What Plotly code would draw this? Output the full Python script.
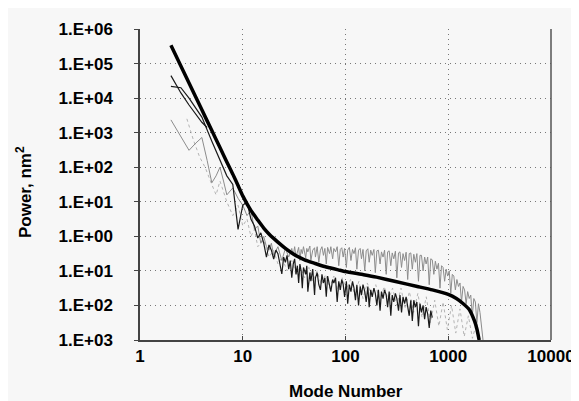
import plotly.graph_objects as go

# ---- data (second item of each pair is log10 of power) ----
fit_points = [(2, 5.53), (3, 4.44), (4, 3.66), (5, 3.06), (6, 2.57), (7, 2.15), (8, 1.80),
              (9, 1.47), (10, 1.17), (12, 0.75), (14, 0.47), (16, 0.24), (18, 0.07),
              (20, -0.06), (23, -0.22), (26, -0.35), (30, -0.48), (35, -0.60), (40, -0.68),
              (50, -0.78), (60, -0.86), (70, -0.91), (85, -0.97), (100, -1.02), (150, -1.11),
              (200, -1.18), (300, -1.30), (500, -1.45), (700, -1.55), (1000, -1.68),
              (1200, -1.80), (1400, -1.95), (1600, -2.12), (1800, -2.45), (1900, -2.68),
              (2000, -3.00)]

dark_a_points = [(2, 4.65), (2.5, 4.15), (3, 3.80), (3.5, 3.55), (4, 3.30), (4.5, 3.15)]

dark_b_points = [(2, 4.34), (2.5, 4.30), (3, 4.00), (3.5, 3.70), (4, 3.45), (5, 2.75), (6, 2.20),
                 (7, 1.75), (8, 1.50), (9, 0.20), (10, 0.90), (11, 1.00), (12, 0.50), (13, 0.30),
                 (14, -0.05), (15, 0.10), (16, -0.20), (17, -0.60), (18, -0.25), (19, -0.40),
                 (20, -0.66), (21, -0.40), (22, -0.50), (23, -0.80), (24, -1.09), (25, -0.60),
                 (26, -0.75), (27, -0.55), (28, -0.95), (29, -0.70), (30, -1.20), (31, -0.80),
                 (32, -0.65), (33, -1.10), (34, -0.85), (35, -1.35), (36, -0.80), (37, -1.00),
                 (38, -1.50), (39, -0.90), (41, -1.10), (42, -0.85), (43, -1.60), (45, -1.05),
                 (46, -1.30), (48, -0.95), (50, -1.70), (51, -1.20), (53, -1.05), (55, -1.40),
                 (57, -1.55), (59, -1.10), (61, -1.35), (63, -1.20), (65, -1.75), (67, -1.15),
                 (70, -1.45), (72, -1.60), (75, -1.25), (77, -1.35), (80, -1.20), (83, -1.90),
                 (86, -1.30), (89, -1.55), (92, -1.25), (95, -1.40), (98, -1.75), (102, -1.30),
                 (105, -1.95), (109, -1.40), (113, -1.60), (117, -1.30), (121, -1.50),
                 (125, -1.85), (129, -1.40), (134, -2.00), (139, -1.45), (143, -1.70),
                 (148, -1.40), (154, -1.60), (159, -1.90), (165, -1.45), (170, -2.05),
                 (176, -1.55), (182, -1.75), (189, -1.50), (195, -1.65), (202, -2.00),
                 (209, -1.55), (217, -2.15), (224, -1.60), (232, -1.80), (240, -1.55),
                 (249, -1.70), (257, -2.05), (266, -1.60), (276, -2.30), (285, -1.70),
                 (295, -1.90), (306, -1.65), (316, -1.80), (328, -2.15), (339, -1.70),
                 (351, -2.20), (363, -1.75), (376, -1.95), (389, -1.75), (403, -2.05),
                 (417, -2.30), (432, -1.85), (447, -2.45), (462, -1.85), (479, -2.05),
                 (495, -1.90), (513, -2.60), (531, -1.95), (549, -2.20), (569, -2.00),
                 (589, -2.40), (609, -2.05), (631, -2.25), (653, -2.65), (676, -2.15),
                 (699, -2.35)]

gray_points = [(2, 3.37), (2.5, 2.90), (3, 2.49), (3.5, 2.70), (4, 2.86), (4.5, 2.20), (5, 1.55),
               (5.5, 1.75), (6, 2.00), (6.5, 1.60), (7, 1.20), (8, 1.40), (9, 1.10), (10, 0.90),
               (11, 0.60), (12, 0.75), (13, 0.20), (14, 0.30), (15, -0.20), (16, 0.00),
               (17, -0.30), (18, -0.40), (19, -0.20), (20, -0.55), (22, -0.30), (24, -0.70),
               (26, -0.35), (28, -0.60), (30, -0.35), (31, -0.55), (32, -0.30), (33, -0.60),
               (34, -0.40), (35, -0.32), (36, -0.70), (37, -0.38), (38, -0.50), (39, -0.30),
               (41, -0.62), (42, -0.35), (43, -0.45), (45, -0.28), (46, -0.70), (48, -0.40),
               (50, -0.33), (51, -0.60), (53, -0.30), (55, -0.75), (57, -0.40), (59, -0.30),
               (61, -0.55), (63, -0.35), (65, -0.80), (67, -0.32), (70, -0.50), (72, -0.30),
               (75, -0.65), (77, -0.35), (80, -0.45), (83, -0.30), (86, -0.85), (89, -0.38),
               (92, -0.33), (95, -0.60), (98, -0.35), (102, -0.90), (105, -0.40), (109, -0.32),
               (113, -0.70), (117, -0.38), (121, -0.50), (125, -0.33), (129, -0.95),
               (134, -0.40), (139, -0.35), (143, -0.65), (148, -0.38), (154, -1.00),
               (159, -0.42), (165, -0.36), (170, -0.75), (176, -0.40), (182, -0.55),
               (189, -0.38), (195, -1.05), (202, -0.42), (209, -0.40), (217, -0.80),
               (224, -0.45), (232, -0.60), (240, -0.40), (249, -1.10), (257, -0.45),
               (266, -0.42), (276, -0.85), (285, -0.48), (295, -0.65), (306, -0.43),
               (316, -1.20), (328, -0.48), (339, -0.45), (351, -0.90), (363, -0.50),
               (376, -0.70), (389, -0.46), (403, -1.25), (417, -0.50), (432, -0.48),
               (447, -0.95), (462, -0.52), (479, -0.75), (495, -0.50), (513, -1.30),
               (531, -0.55), (549, -0.55), (569, -1.00), (589, -0.60), (609, -0.80),
               (631, -0.60), (653, -1.40), (676, -0.65), (699, -0.68), (724, -1.10),
               (749, -0.72), (776, -0.95), (803, -0.78), (831, -1.50), (860, -0.85),
               (890, -0.90), (922, -1.30), (954, -0.95), (987, -1.15), (1022, -1.00),
               (1058, -1.65), (1095, -1.10), (1133, -1.15), (1173, -1.55), (1214, -1.25),
               (1257, -1.45), (1301, -1.35), (1346, -1.90), (1394, -1.45), (1442, -1.55),
               (1493, -1.95), (1545, -1.60), (1600, -1.80), (1656, -1.70), (1714, -2.30),
               (1774, -1.80), (1836, -1.90), (1900, -2.50), (1967, -1.95), (2036, -2.20),
               (2107, -2.70), (2180, -3.00)]

light_points = [(2.86, 3.40), (3.3, 2.80), (3.8, 2.30), (4.3, 2.00), (5, 1.50), (5.5, 1.20),
                (6, 1.60), (7, 1.00), (8, 0.60), (9, 0.90), (10, 0.30), (11, 0.50), (12, 0.00),
                (13, 0.20), (14, -0.30), (16, -0.10), (18, -0.60), (20, -0.40), (22, -0.80),
                (24, -0.60), (27, -1.00), (30, -0.70), (33, -1.10), (36, -0.85), (40, -1.20),
                (44, -0.90), (48, -1.30), (53, -1.00), (58, -1.40), (64, -1.10), (70, -1.50),
                (77, -1.15), (85, -1.60), (93, -1.20), (102, -1.55), (112, -1.25),
                (123, -1.70), (135, -1.30), (148, -1.80), (163, -1.35), (179, -1.70),
                (197, -1.40), (216, -1.90), (238, -1.45), (261, -1.85), (287, -1.50),
                (316, -2.00), (347, -1.50), (381, -2.10), (419, -1.60), (460, -2.20),
                (506, -1.65), (556, -2.35), (611, -1.75), (672, -2.50), (738, -1.85),
                (811, -2.60), (891, -1.90), (980, -2.70), (1077, -2.00), (1183, -2.80),
                (1300, -2.10), (1430, -2.90), (1570, -2.30), (1720, -2.95), (1890, -2.50),
                (2000, -3.00)]

y_tickvals = [1e-3, 1e-2, 1e-1, 1e0, 1e1, 1e2, 1e3, 1e4, 1e5, 1e6]
y_ticktext = ["1.E+03", "1.E+02", "1.E+01", "1.E+00", "1.E+01", "1.E+02",
              "1.E+03", "1.E+04", "1.E+05", "1.E+06"]
x_tickvals = [1, 10, 100, 1000, 10000]
x_ticktext = ["1", "10", "100", "1000", "10000"]


def xy(points):
    xs = [p[0] for p in points]
    ys = [10 ** p[1] for p in points]
    return xs, ys


FONT = "Liberation Sans, Arial, sans-serif"
BG = "#f7f7f7"

fig = go.Figure()
for pts, color, width, dash, shape in [
    (light_points, "#b4b4b4", 1, "dot", "linear"),
    (gray_points, "#8c8c8c", 1, "solid", "linear"),
    (dark_b_points, "#1a1a1a", 1.2, "solid", "linear"),
    (dark_a_points, "#1a1a1a", 1.2, "solid", "linear"),
    (fit_points, "#000000", 3.5, "solid", "spline"),
]:
    xs, ys = xy(pts)
    fig.add_trace(go.Scatter(x=xs, y=ys, mode="lines", hoverinfo="skip",
                             line=dict(color=color, width=width, dash=dash, shape=shape,
                                       smoothing=0.5 if shape == "spline" else None)))

fig.update_layout(
    width=579, height=401,
    margin=dict(l=132, r=26, t=17, b=69),
    paper_bgcolor=BG, plot_bgcolor=BG,
    showlegend=False,
    font=dict(family=FONT, size=17, color="#000"),
    xaxis=dict(type="log", range=[0, 4], tickvals=x_tickvals, ticktext=x_ticktext,
               showgrid=True, gridcolor="#777", griddash="1px,4px", gridwidth=1,
               showline=True, linecolor="#444", linewidth=1.5,
               ticks="inside", ticklen=4, tickcolor="#444",
               tickfont=dict(family=FONT, size=17, color="#000", weight="bold"),
               ticklabelstandoff=0, zeroline=False),
    yaxis=dict(type="log", range=[-3, 6], tickvals=y_tickvals, ticktext=y_ticktext,
               showgrid=True, gridcolor="#777", griddash="1px,4px", gridwidth=1,
               showline=True, linecolor="#444", linewidth=1.5,
               ticks="outside", ticklen=4, tickcolor="#444",
               tickfont=dict(family=FONT, size=17, color="#000", weight="bold"),
               ticklabelstandoff=18, zeroline=False),
    shapes=[dict(type="line", xref="paper", yref="paper", x0=1, x1=1, y0=0, y1=1,
                 line=dict(color="#555", width=1.5))],
    annotations=[
        dict(text="<b>Mode Number</b>", xref="paper", yref="paper", x=0.5, y=-0.167,
             xanchor="center", yanchor="middle", showarrow=False,
             font=dict(family=FONT, size=17, color="#000")),
        dict(text="<b>Power, nm<sup>2</sup></b>", xref="paper", yref="paper",
             x=-0.282, y=0.476, xanchor="center", yanchor="middle", showarrow=False,
             textangle=-90, font=dict(family=FONT, size=17, color="#000")),
    ],
)

fig.write_html("out.html")
